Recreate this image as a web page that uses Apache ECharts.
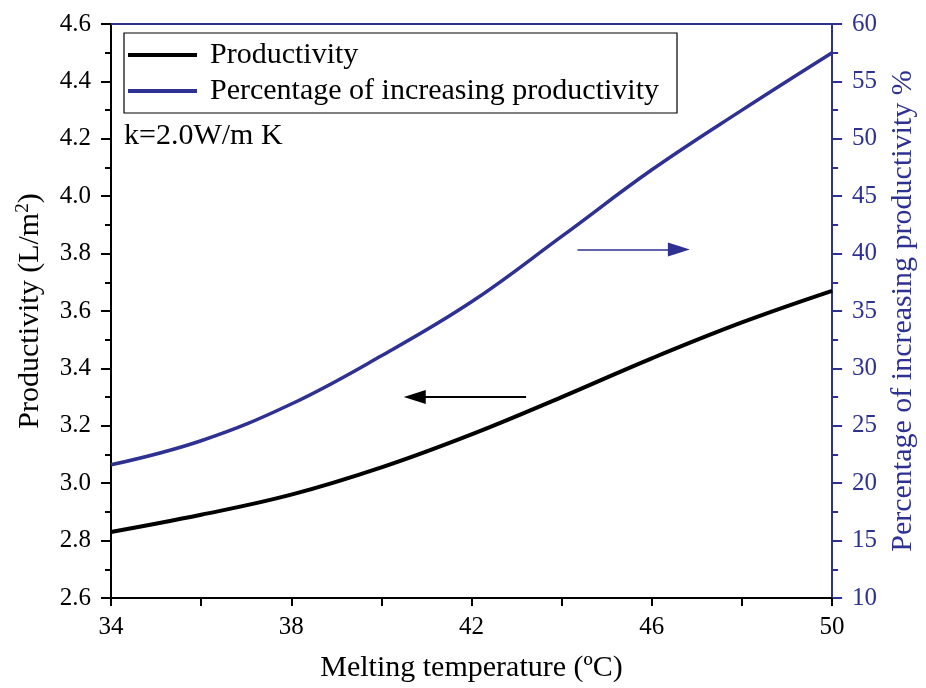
<!DOCTYPE html>
<html>
<head>
<meta charset="utf-8">
<script src="https://cdn.jsdelivr.net/npm/echarts@6/dist/echarts.min.js"></script>
<style>html,body{margin:0;padding:0;background:#fff;overflow:hidden;width:100%;height:100%;}#chart{width:100vw;height:100vh;}</style>
</head>
<body>
<div id="chart"></div>
<script>
// ---- data ----
const temps = [34, 36, 38, 40, 42, 44, 46, 48, 50];
const productivity = [2.83, 2.89, 2.96, 3.055, 3.17, 3.30, 3.435, 3.56, 3.67];
const percentage = [21.6, 23.7, 26.9, 31.1, 35.8, 41.5, 47.3, 52.5, 57.5];
const seriesNames = ['Productivity', 'Percentage of increasing productivity'];
const annotationText = 'k=2.0W/m K';
// arrow annotations in data space [x, y]
const blueArrow = [[44.35, 40.36], [46.6, 40.36]];
const blackArrow = [[43.21, 3.30], [40.74, 3.30]];

const FONT = "'Liberation Serif', 'Times New Roman', serif";
const BLUE = '#2e3192';

const chart = echarts.init(document.getElementById('chart'), null, {renderer: 'canvas'});
chart.setOption({
  animation: false,
  backgroundColor: '#fff',
  grid: {left: 111, right: 84, top: 24, bottom: 81, containLabel: false},
  legend: {
    orient: 'vertical', left: 124, top: 33,
    data: seriesNames,
    icon: 'rect',
    itemWidth: 69, itemHeight: 4, itemGap: 6,
    padding: [7, 18, 7, 4],
    borderColor: '#000', borderWidth: 1.2,
    textStyle: {fontFamily: FONT, fontSize: 30, color: '#000', padding: [0, 0, 0, 8], lineHeight: 30}
  },
  graphic: [{
    type: 'text', left: 124, top: 121,
    style: {text: annotationText, font: '30px ' + FONT, fill: '#000'}
  }],
  xAxis: [{
    type: 'value', min: 34, max: 50, interval: 2,
    position: 'bottom',
    name: 'Melting temperature (º{n|C)}',
    nameLocation: 'middle', nameGap: 55,
    nameTextStyle: {fontFamily: FONT, fontSize: 30, color: '#000', rich: {n: {fontFamily: FONT, fontSize: 30, color: '#000'}}},
    axisLine: {lineStyle: {color: '#000', width: 2}},
    axisTick: {inside: false, length: 8, lineStyle: {color: '#000', width: 2}},
    axisLabel: {fontFamily: FONT, fontSize: 25, color: '#000', margin: 17,
      formatter: v => ((v - 34) % 4 === 0 ? String(v) : '')},
    splitLine: {show: false}
  }, {
    type: 'value', min: 34, max: 50, position: 'top',
    axisLine: {lineStyle: {color: BLUE, width: 2}},
    axisTick: {show: false}, axisLabel: {show: false}, splitLine: {show: false}
  }],
  yAxis: [{
    type: 'value', min: 2.6, max: 4.6, interval: 0.2, position: 'left',
    name: 'Productivity (L/m{sup|2})',
    nameLocation: 'middle', nameGap: 64, nameRotate: 90,
    nameTextStyle: {fontFamily: FONT, fontSize: 30, color: '#000',
      rich: {sup: {fontFamily: FONT, fontSize: 19, color: '#000', padding: [0, 0, 14, 0]}}},
    axisLine: {show: true, lineStyle: {color: '#000', width: 2}},
    axisTick: {show: true, length: 10, lineStyle: {color: '#000', width: 2}},
    minorTick: {show: true, splitNumber: 2, length: 6, lineStyle: {color: '#000', width: 2}},
    axisLabel: {fontFamily: FONT, fontSize: 25, color: '#000', margin: 20,
      formatter: v => v.toFixed(1)},
    splitLine: {show: false}
  }, {
    type: 'value', min: 10, max: 60, interval: 5, position: 'right',
    name: 'Percentage of increasing productivity %',
    nameLocation: 'middle', nameGap: 49, nameRotate: 90,
    nameTextStyle: {fontFamily: FONT, fontSize: 30, color: BLUE},
    axisLine: {show: true, lineStyle: {color: BLUE, width: 2}},
    axisTick: {show: true, length: 10, lineStyle: {color: BLUE, width: 2}},
    minorTick: {show: true, splitNumber: 2, length: 6, lineStyle: {color: BLUE, width: 2}},
    axisLabel: {fontFamily: FONT, fontSize: 25, color: BLUE, margin: 20},
    splitLine: {show: false}
  }],
  series: [{
    name: seriesNames[0], type: 'line', xAxisIndex: 0, yAxisIndex: 0,
    data: temps.map((t, i) => [t, productivity[i]]),
    smooth: 0.4, symbol: 'none', showSymbol: false,
    lineStyle: {color: '#000', width: 4}, itemStyle: {color: '#000'},
    markLine: {
      silent: true, animation: false, symbol: ['none', 'triangle'], symbolSize: [14, 22],
      lineStyle: {color: '#000', width: 2, type: 'solid'}, label: {show: false},
      data: [[{coord: blackArrow[0]}, {coord: blackArrow[1]}]]
    }
  }, {
    name: seriesNames[1], type: 'line', xAxisIndex: 0, yAxisIndex: 1,
    data: temps.map((t, i) => [t, percentage[i]]),
    smooth: 0.4, symbol: 'none', showSymbol: false,
    lineStyle: {color: BLUE, width: 3.5}, itemStyle: {color: BLUE},
    markLine: {
      silent: true, animation: false, symbol: ['none', 'triangle'], symbolSize: [14, 22],
      lineStyle: {color: BLUE, width: 1.6, type: 'solid'}, label: {show: false},
      data: [[{coord: blueArrow[0]}, {coord: blueArrow[1]}]]
    }
  }]
});
</script>
</body>
</html>
